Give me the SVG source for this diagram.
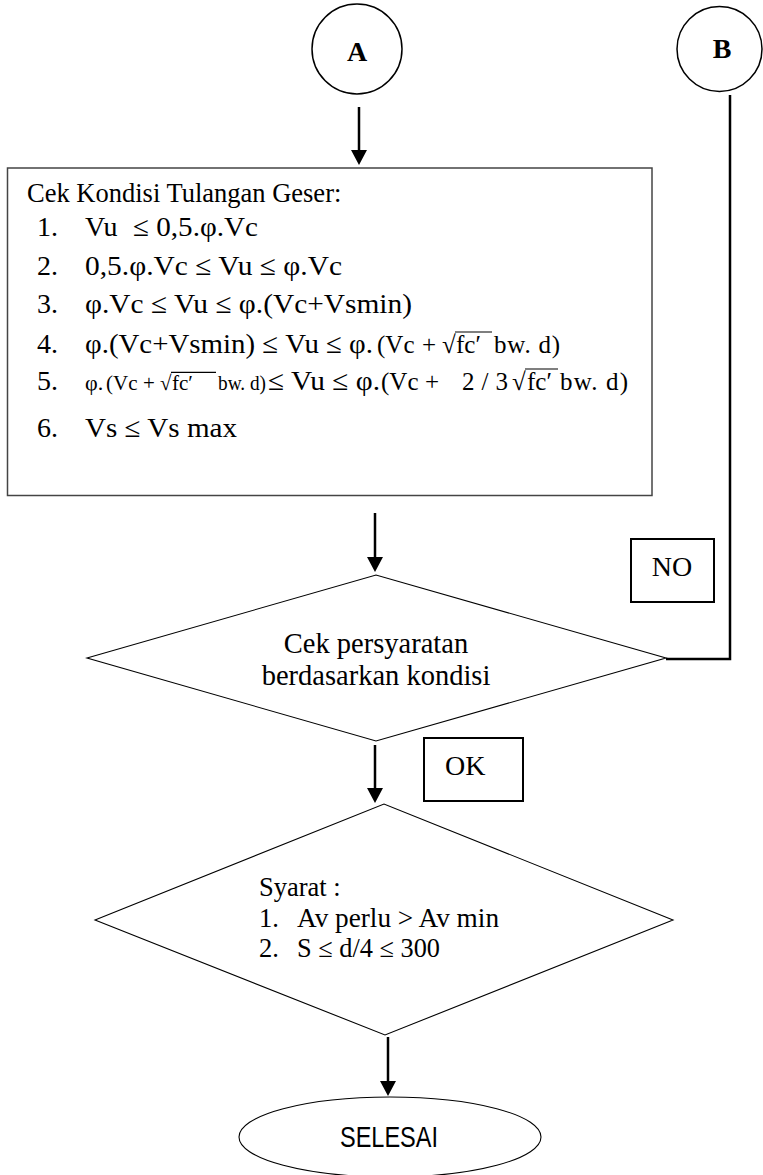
<svg xmlns="http://www.w3.org/2000/svg" width="763" height="1175" viewBox="0 0 763 1175">
  <style>
    .serif { font-family: "Liberation Serif", "Times New Roman", serif; fill: #000; }
    .sans { font-family: "Liberation Sans Narrow", "Liberation Sans", Arial, sans-serif; fill: #000; }
    .bold { font-weight: bold; }
    .shape { fill: #fff; stroke: #000; }
    .thin { stroke-width: 1.1; }
    .mid { stroke-width: 1.5; }
    .thick { stroke-width: 2; }
    .flow { fill: none; stroke: #000; stroke-width: 2.5; }
    .bar { stroke: #000; stroke-width: 1.2; }
    .item { font-size: 28px; }
    .math { font-size: 25px; }
    .math-sm { font-size: 21px; }
  </style>
  <defs>
    <marker id="arrowhead" markerUnits="userSpaceOnUse" viewBox="0 0 15 16" markerWidth="15" markerHeight="16" refX="1" refY="8" orient="auto">
      <path d="M0,0 L15,8 L0,16 Z" fill="#000"/>
    </marker>
  </defs>
  <rect width="763" height="1175" fill="#fff"/>

  <!-- connectors -->
  <g id="connectors">
    <line class="flow" x1="359" y1="107" x2="359" y2="151" marker-end="url(#arrowhead)"/>
    <line class="flow" x1="375" y1="513" x2="375" y2="558" marker-end="url(#arrowhead)"/>
    <line class="flow" x1="375" y1="745" x2="375" y2="789" marker-end="url(#arrowhead)"/>
    <line class="flow" x1="388" y1="1037" x2="388" y2="1082" marker-end="url(#arrowhead)"/>
    <polyline class="flow" points="730,95 730,659 666,659"/>
  </g>

  <!-- connector A -->
  <g id="node-a">
    <circle class="shape mid" cx="357" cy="49" r="45"/>
    <text class="serif bold" x="357" y="61" font-size="28" text-anchor="middle">A</text>
  </g>

  <!-- connector B -->
  <g id="node-b">
    <circle class="shape mid" cx="719.5" cy="49" r="42.5"/>
    <text class="serif bold" x="722" y="58" font-size="28" text-anchor="middle">B</text>
  </g>

  <!-- shear reinforcement condition check -->
  <g id="node-kondisi">
    <rect x="7.5" y="168" width="644.5" height="327.5" fill="#fff" stroke="#444" stroke-width="1.5"/>
    <text class="serif" x="27" y="202" font-size="26.5">Cek Kondisi Tulangan Geser:</text>

    <!-- 1 -->
    <text class="serif item" x="37" y="236">1.</text>
    <text class="serif item" x="85" y="236">Vu</text>
    <text class="serif item" x="133" y="236" textLength="125" lengthAdjust="spacingAndGlyphs">≤ 0,5.φ.Vc</text>

    <!-- 2 -->
    <text class="serif item" x="37" y="275">2.</text>
    <text class="serif item" x="85" y="275" textLength="257" lengthAdjust="spacingAndGlyphs">0,5.φ.Vc ≤ Vu ≤ φ.Vc</text>

    <!-- 3 -->
    <text class="serif item" x="37" y="313">3.</text>
    <text class="serif item" x="85" y="313" textLength="327" lengthAdjust="spacingAndGlyphs">φ.Vc ≤ Vu ≤ φ.(Vc+Vsmin)</text>

    <!-- 4 -->
    <text class="serif item" x="37" y="353">4.</text>
    <text class="serif item" x="85" y="353" textLength="288" lengthAdjust="spacingAndGlyphs">φ.(Vc+Vsmin) ≤ Vu ≤ φ.</text>
    <text class="serif math" x="377" y="353">(Vc</text>
    <text class="serif math" x="422" y="353">+</text>
    <text class="serif math" x="442" y="353">√</text>
    <text class="serif math" x="456" y="353">fc′</text>
    <line class="bar" x1="455" y1="332" x2="492" y2="332"/>
    <text class="serif math" x="494" y="353" textLength="66" lengthAdjust="spacing">bw. d)</text>

    <!-- 5 -->
    <text class="serif item" x="37" y="390">5.</text>
    <text class="serif" x="85" y="390" font-size="22">φ.</text>
    <text class="serif math-sm" x="106" y="390">(Vc</text>
    <text class="serif math-sm" x="143" y="390">+</text>
    <text class="serif math-sm" x="160" y="390">√</text>
    <text class="serif math-sm" x="172" y="390">fc′</text>
    <line class="bar" x1="171" y1="372.4" x2="216" y2="372.4"/>
    <text class="serif math-sm" x="218" y="390" textLength="48" lengthAdjust="spacingAndGlyphs">bw. d)</text>
    <text class="serif item" x="268" y="390" textLength="112" lengthAdjust="spacingAndGlyphs">≤ Vu ≤ φ.</text>
    <text class="serif math" x="381" y="390">(Vc</text>
    <text class="serif math" x="425" y="390">+</text>
    <text class="serif math" x="462" y="390" textLength="46" lengthAdjust="spacing">2/3</text>
    <text class="serif math" x="512" y="390">√</text>
    <text class="serif math" x="527" y="390">fc′</text>
    <line class="bar" x1="525" y1="369" x2="558" y2="369"/>
    <text class="serif math" x="560" y="390" textLength="68" lengthAdjust="spacing">bw. d)</text>

    <!-- 6 -->
    <text class="serif item" x="37" y="437">6.</text>
    <text class="serif item" x="85" y="437" textLength="152" lengthAdjust="spacingAndGlyphs">Vs ≤ Vs max</text>
  </g>

  <!-- requirement check per condition -->
  <g id="node-persyaratan">
    <polygon class="shape thin" points="87,658 376,575 666,658 376,741"/>
    <text class="serif" x="376" y="653" font-size="28.5" text-anchor="middle">Cek persyaratan</text>
    <text class="serif" x="376" y="685" font-size="28.5" text-anchor="middle">berdasarkan kondisi</text>
  </g>

  <!-- NO branch label -->
  <g id="label-no">
    <rect class="shape thick" x="631" y="539" width="83" height="63"/>
    <text class="serif" x="672" y="576" font-size="28" text-anchor="middle">NO</text>
  </g>

  <!-- OK branch label -->
  <g id="label-ok">
    <rect class="shape thick" x="424" y="738" width="99" height="63"/>
    <text class="serif" x="445" y="775" font-size="28">OK</text>
  </g>

  <!-- final requirements -->
  <g id="node-syarat">
    <polygon class="shape thin" points="95,920 384,804 673,920 385,1035"/>
    <text class="serif" x="259" y="896" font-size="26.5">Syarat :</text>
    <text class="serif" x="259" y="927" font-size="26.5">1.</text>
    <text class="serif" x="297" y="927" font-size="26.5" textLength="202" lengthAdjust="spacingAndGlyphs">Av perlu &gt; Av min</text>
    <text class="serif" x="259" y="957" font-size="26.5">2.</text>
    <text class="serif" x="297" y="957" font-size="26.5" textLength="143" lengthAdjust="spacingAndGlyphs">S ≤ d/4 ≤ 300</text>
  </g>

  <!-- end -->
  <g id="node-selesai">
    <ellipse class="shape thin" cx="390" cy="1137" rx="151" ry="40"/>
    <text class="sans" x="389" y="1147" font-size="30" text-anchor="middle" textLength="98" lengthAdjust="spacingAndGlyphs">SELESAI</text>
  </g>
</svg>
